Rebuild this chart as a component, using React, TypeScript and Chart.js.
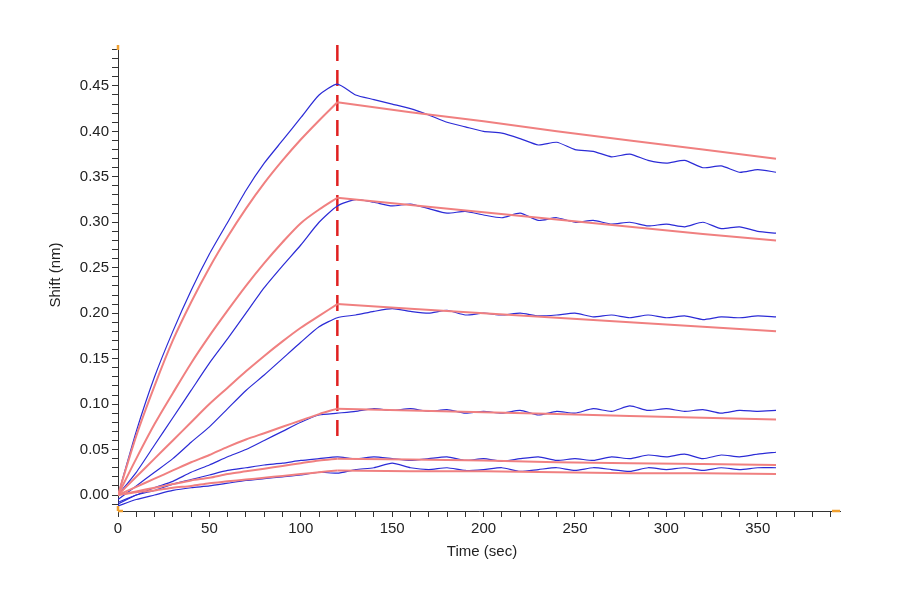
import React, { useEffect, useRef } from "react";
import { Chart, registerables } from "chart.js";
Chart.register(...registerables);

const T = Array.from({ length: 37 }, (_, i) => i * 10);
const TA = T.slice(0, 13);
const TD = [120, 160, 200, 240, 280, 320, 360];

const B1 = [0,.07,.13,.18,.225,.265,.30,.335,.365,.39,.415,.44,.452,.44,.435,.43,.425,.418,.41,.405,.40,.398,.392,.385,.388,.38,.378,.372,.375,.368,.365,.368,.36,.362,.355,.358,.355];
const B2 = [0,.025,.055,.085,.115,.145,.172,.20,.228,.252,.275,.30,.318,.325,.322,.318,.32,.315,.31,.312,.308,.305,.31,.302,.305,.30,.302,.298,.30,.296,.298,.295,.30,.293,.295,.29,.288];
const B3 = [-.005,.01,.025,.04,.058,.075,.095,.115,.132,.15,.168,.185,.195,.198,.202,.205,.202,.2,.203,.198,.2,.198,.2,.197,.198,.2,.196,.198,.195,.198,.195,.197,.193,.196,.195,.197,.196];
const B4 = [-.008,0,.008,.015,.025,.033,.042,.05,.06,.07,.08,.088,.09,.092,.095,.093,.095,.092,.094,.09,.092,.09,.093,.088,.092,.09,.095,.092,.098,.093,.095,.092,.094,.09,.093,.092,.093];
const B5 = [-.01,0,.005,.012,.017,.022,.027,.03,.033,.035,.038,.04,.042,.04,.042,.04,.038,.04,.042,.038,.04,.037,.04,.042,.038,.04,.038,.042,.04,.044,.042,.045,.04,.044,.042,.045,.047];
const B6 = [-.012,-.005,0,.005,.008,.01,.013,.016,.018,.02,.022,.025,.024,.028,.03,.035,.03,.028,.03,.027,.028,.03,.026,.028,.03,.027,.03,.028,.026,.03,.028,.03,.027,.03,.028,.03,.03];

const RA1 = [0,.065,.12,.17,.212,.25,.284,.315,.343,.368,.391,.412,.432];
const RA2 = [0,.04,.078,.112,.145,.175,.203,.23,.255,.278,.299,.314,.327];
const RA3 = [0,.02,.04,.06,.08,.10,.118,.136,.153,.169,.184,.197,.210];
const RA4 = [0,.009,.018,.027,.036,.044,.053,.061,.068,.075,.082,.089,.095];
const RA5 = [0,.004,.008,.012,.016,.019,.023,.026,.029,.032,.035,.038,.040];
const RA6 = [0,.003,.005,.008,.010,.013,.015,.017,.019,.021,.023,.025,.027];
const RD1 = [.432,.421,.411,.400,.390,.380,.370];
const RD2 = [.327,.319,.311,.303,.295,.287,.280];
const RD3 = [.210,.205,.200,.195,.190,.185,.180];
const RD4 = [.095,.093,.091,.089,.087,.085,.083];
const RD5 = [.040,.039,.038,.036,.035,.034,.033];
const RD6 = [.027,.026,.026,.025,.024,.024,.023];

const XT = [0, 50, 100, 150, 200, 250, 300, 350];

const pts = (xs: number[], ys: number[]) => xs.map((x, i) => ({ x, y: ys[i] }));

export default function App() {
  const ref = useRef<HTMLCanvasElement>(null);
  useEffect(() => {
    const blue = [B1, B2, B3, B4, B5, B6].map((b) => ({
      data: pts(T, b), borderColor: "#2b2bd6", borderWidth: 1.2, pointRadius: 0, tension: 0.2,
    }));
    const red: any[] = [];
    [[RA1, RD1], [RA2, RD2], [RA3, RD3], [RA4, RD4], [RA5, RD5], [RA6, RD6]].forEach(([a, d]) => {
      red.push({ data: pts(TA, a), borderColor: "#f08080", borderWidth: 2, pointRadius: 0, tension: 0.3 });
      red.push({ data: pts(TD, d), borderColor: "#f08080", borderWidth: 2, pointRadius: 0, tension: 0 });
    });
    const deco = {
      id: "deco",
      afterDraw(c: any) {
        const ctx = c.ctx; const a = c.chartArea;
        ctx.save();
        ctx.fillStyle = "#222"; ctx.font = "15px 'Liberation Sans', Arial";
        ctx.textAlign = "center";
        ctx.fillText("Time (sec)", 482, 556);
        ctx.translate(60, 275); ctx.rotate(-Math.PI / 2);
        ctx.fillText("Shift (nm)", 0, 0);
        ctx.restore();
        ctx.save();
        ctx.strokeStyle = "#f0a030"; ctx.lineWidth = 2.5;
        ctx.beginPath();
        ctx.moveTo(a.left, a.top); ctx.lineTo(a.left, a.top + 5);
        ctx.moveTo(a.left, a.bottom); ctx.lineTo(a.left, a.bottom - 5);
        ctx.moveTo(a.left, a.bottom); ctx.lineTo(a.left + 5, a.bottom);
        ctx.moveTo(a.right, a.bottom); ctx.lineTo(a.right - 8, a.bottom);
        ctx.stroke();
        ctx.restore();
      },
    };
    const ch = new Chart(ref.current!, {
      type: "line",
      data: {
        datasets: [
          ...red, ...blue,
          { data: [{ x: 120, y: 0.065 }, { x: 120, y: 0.503 }], borderColor: "#e02020", borderWidth: 2.5, borderDash: [16, 9], pointRadius: 0 },
        ] as any,
      },
      options: {
        animation: false, responsive: false,
        layout: { padding: { top: 45, right: 60, left: 0, bottom: 0 } },
        plugins: { legend: { display: false }, tooltip: { enabled: false } },
        scales: {
          x: {
            type: "linear", min: 0, max: 395,
            afterBuildTicks: (s: any) => { const t = []; for (let v = 0; v <= 390; v += 10) t.push({ value: v }); s.ticks = t; },
            afterFit: (s: any) => { s.height = 89; },
            ticks: { autoSkip: false, maxRotation: 0, color: "#222", font: { family: "'Liberation Sans', Arial", size: 15 },
              callback: (v: any) => (XT.includes(Number(v)) ? String(v) : "") },
            grid: { drawOnChartArea: false, tickLength: 6, color: "#333" },
            border: { color: "#333" },
          },
          y: {
            type: "linear", min: -0.0176, max: 0.495,
            afterBuildTicks: (s: any) => { const t = []; for (let i = -1; i <= 49; i++) t.push({ value: i / 100 }); s.ticks = t; },
            afterFit: (s: any) => { s.width = 118; },
            ticks: { autoSkip: false, color: "#222", font: { family: "'Liberation Sans', Arial", size: 15 },
              callback: (v: any) => { const k = Math.round(Number(v) * 100); return k >= 0 && k <= 45 && k % 5 === 0 ? (k / 100).toFixed(2) : ""; } },
            grid: { drawOnChartArea: false, tickLength: 6, color: "#333" },
            border: { color: "#333" },
          },
        },
      },
      plugins: [deco],
    });
    return () => ch.destroy();
  }, []);
  return (
    <div style={{ position: "absolute", left: 0, top: 0, width: 900, height: 600, background: "#fff" }}>
      <canvas ref={ref} width={900} height={600} />
    </div>
  );
}
